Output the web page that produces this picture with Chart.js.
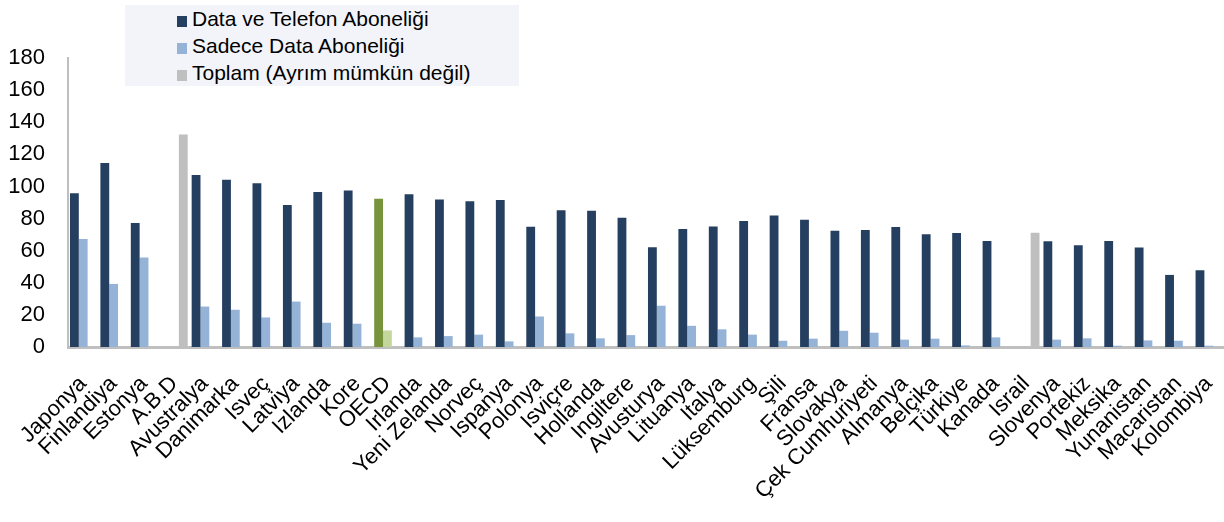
<!DOCTYPE html>
<html>
<head>
<meta charset="utf-8">
<script src="https://cdn.jsdelivr.net/npm/chart.js@4/dist/chart.umd.min.js"></script>
<style>
  body { margin: 0; background: #fff; }
  #wrap { position: relative; width: 1224px; height: 522px; }
  #legend {
    position: absolute; left: 125px; top: 5px; width: 394px; height: 81px;
    background: #f2f4fa; font-family: "Liberation Sans", Arial, sans-serif;
    font-size: 21px; color: #000;
  }
  #legend div { position: absolute; left: 52px; height: 27px; line-height: 27px; white-space: nowrap; }
  #legend span.box { display: inline-block; width: 10px; height: 11px; margin-right: 5px; vertical-align: -1px; }
</style>
</head>
<body>
<div id="wrap">
  <canvas id="chart"></canvas>
  <div id="legend"></div>
</div>
<script>
const countries = ['Japonya', 'Finlandiya', 'Estonya', 'A.B.D', 'Avustralya', 'Danimarka', 'Isveç', 'Latviya',
    'Izlanda', 'Kore', 'OECD', 'Irlanda', 'Yeni Zelanda', 'Norveç', 'Ispanya', 'Polonya', 'Isviçre', 'Hollanda',
    'Ingiltere', 'Avusturya', 'Lituanya', 'Italya', 'Lüksemburg', 'Şili', 'Fransa', 'Slovakya', 'Çek Cumhuriyeti',
    'Almanya', 'Belçika', 'Türkiye', 'Kanada', 'Israil', 'Slovenya', 'Portekiz', 'Meksika', 'Yunanistan',
    'Macaristan', 'Kolombiya'];

// data + voice subscriptions
const dataVeTelefon = [95.8, 114.6, 77.2, null, 107.2, 104.1, 102, 88.4, 96.6, 97.5, 92.3, 95.2, 91.9, 90.8, 91.5, 74.9,
    85.2, 84.8, 80.5, 62.1, 73.5, 75.1, 78.4, 81.9, 79.2, 72.4, 72.8, 74.7, 70.3, 71, 66, null, 65.8, 63.3, 66, 61.9,
    44.9, 47.8];

// data only subscriptions
const sadeceData = [67.2, 39.3, 55.7, null, 25.2, 23.2, 18.4, 28.3, 15.1, 14.5, 10.3, 6, 6.8, 7.7, 3.5, 19, 8.5, 5.4,
    7.4, 25.7, 13.2, 11, 7.7, 3.9, 5.2, 10.1, 8.9, 4.6, 5.2, 1, 6, null, 4.6, 5.4, 0.8, 4.1, 3.9, 0.8];

// totals where split is not available
const toplam = countries.map(c => null);
toplam[3] = 132.4;
toplam[31] = 71.2;

const yTicks = [0, 20, 40, 60, 80, 100, 120, 140, 160, 180];

const navy = '#243f60', lightBlue = '#95b3d7', grey = '#bfbfbf';

const ctx = document.getElementById('chart');

const chart = new Chart(ctx, {
    type: 'bar',
    data: {
        labels: countries,
        datasets: [{
            label: 'Data ve Telefon Aboneliği',
            data: dataVeTelefon,
            backgroundColor: countries.map(c => c === 'OECD' ? '#77933c' : navy),
            legendColor: navy
        }, {
            label: 'Sadece Data Aboneliği',
            data: sadeceData,
            backgroundColor: countries.map(c => c === 'OECD' ? '#c3d69b' : lightBlue),
            legendColor: lightBlue
        }, {
            label: 'Toplam (Ayrım mümkün değil)',
            data: toplam,
            backgroundColor: grey,
            legendColor: grey
        }]
    },
    options: {
        responsive: true,
        maintainAspectRatio: false,
        animation: false,
        layout: { padding: { top: 58, left: 0, right: 0, bottom: 0 } },
        datasets: { bar: { categoryPercentage: 0.87, barPercentage: 1.0 } },
        plugins: {
            legend: { display: false },
            tooltip: { enabled: false }
        },
        scales: {
            x: {
                grid: { display: false, drawTicks: false },
                border: { display: true, color: grey, width: 3 },
                // rotated labels may run off to the left, like in the original
                afterFit: scale => {
                    scale.paddingLeft = 0;
                    scale.paddingRight = 0;
                    scale.height = 175;
                },
                ticks: {
                    autoSkip: false,
                    maxRotation: 45,
                    minRotation: 45,
                    color: '#000',
                    padding: 24,
                    font: { family: 'Liberation Sans', size: 22 }
                }
            },
            y: {
                min: 0,
                max: 180,
                afterBuildTicks: axis => { axis.ticks = yTicks.map(v => ({ value: v })); },
                afterFit: scale => { scale.width = 68; },
                grid: { display: false, drawTicks: false },
                border: { display: true, color: grey, width: 2 },
                ticks: {
                    color: '#000',
                    padding: 23,
                    font: { family: 'Liberation Sans', size: 22 }
                }
            }
        }
    }
});

// legend as html, stacked like the original
const legendBox = document.getElementById('legend');
chart.data.datasets.forEach((ds, i) => {
    const row = document.createElement('div');
    row.style.top = (i * 27) + 'px';
    row.innerHTML = '<span class="box" style="background:' + ds.legendColor + '"></span>' + ds.label;
    legendBox.appendChild(row);
});
</script>
</body>
</html>
